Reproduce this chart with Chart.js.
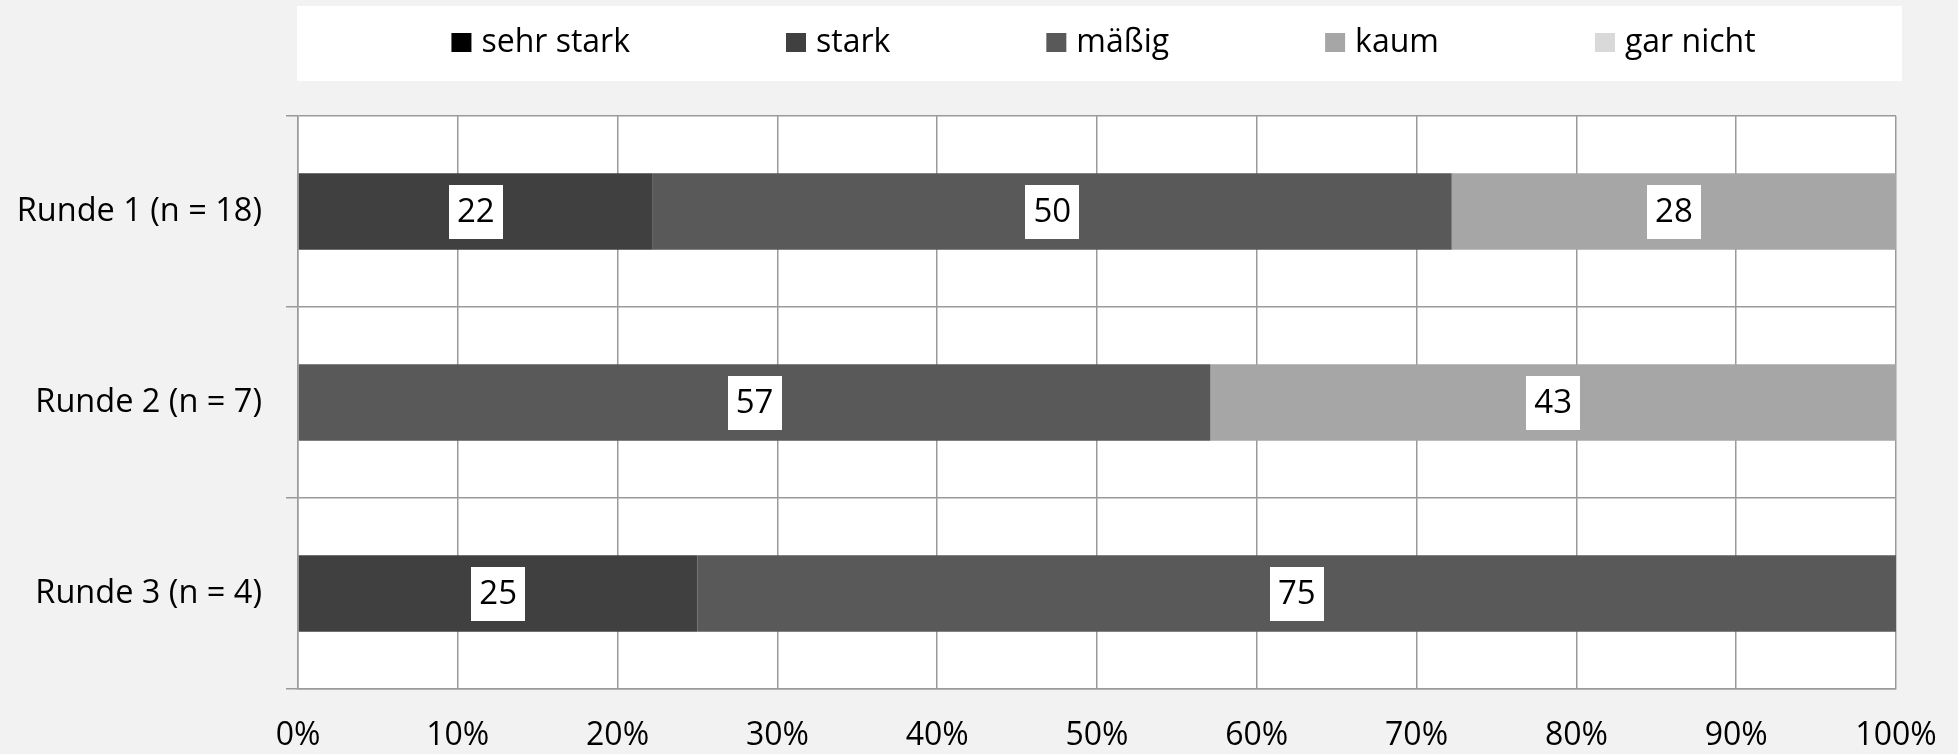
<!DOCTYPE html>
<html>
<head>
<meta charset="utf-8">
<script src="https://cdn.jsdelivr.net/npm/chart.js@4.4.0/dist/chart.umd.min.js"></script>
<style>
html,body{margin:0;padding:0;background:#f2f2f2;}
canvas{display:block;}
</style>
</head>
<body>
<canvas id="c" width="1958" height="754"></canvas>
<script>
const categories = ['Runde 1 (n = 18)', 'Runde 2 (n = 7)', 'Runde 3 (n = 4)'];
const seriesNames = ['sehr stark', 'stark', 'mäßig', 'kaum', 'gar nicht'];
const sehrStark = [0, 0, 0];
const stark = [22.2, 0, 25];
const maessig = [50, 57.1, 75];
const kaum = [27.8, 42.9, 0];
const garNicht = [0, 0, 0];
const xTickValues = [0, 10, 20, 30, 40, 50, 60, 70, 80, 90, 100];
const seriesColors = ['#000000', '#404040', '#595959', '#a6a6a6', '#d9d9d9'];

const FONT = '"Open Sans", "Noto Sans", sans-serif';
const GRID = '#9a9a9a';

const bgPlugin = {
  id: 'bg',
  beforeDraw(chart) {
    const {ctx, chartArea: a} = chart;
    ctx.save();
    ctx.fillStyle = '#f2f2f2';
    ctx.fillRect(0, 0, chart.width, chart.height);
    ctx.fillStyle = '#ffffff';
    ctx.fillRect(a.left, a.top, a.right - a.left, a.bottom - a.top);
    ctx.restore();
  }
};

const legendPlugin = {
  id: 'customLegend',
  afterDraw(chart) {
    const {ctx, chartArea: a} = chart;
    const boxL = a.left - 1, boxR = a.right + 6, boxT = 6, boxB = 81;
    ctx.save();
    ctx.fillStyle = '#ffffff';
    ctx.fillRect(boxL, boxT, boxR - boxL, boxB - boxT);
    ctx.font = '32px ' + FONT;
    ctx.textBaseline = 'middle';
    const sq = 20, gapT = 10, gapItem = 156;
    const ds = chart.data.datasets;
    const widths = ds.map(d => sq + gapT + ctx.measureText(d.label).width);
    const total = widths.reduce((s, w) => s + w, 0) + gapItem * (ds.length - 1);
    let x = (boxL + boxR) / 2 - total / 2 + 4;
    const cy = 43;
    ds.forEach((d, i) => {
      ctx.fillStyle = d.backgroundColor;
      ctx.fillRect(x, cy - 10, sq, 19);
      ctx.fillStyle = '#000';
      ctx.fillText(d.label, x + sq + gapT, cy);
      x += widths[i] + gapItem;
    });
    ctx.restore();
  }
};

const labelPlugin = {
  id: 'valueLabels',
  afterDatasetsDraw(chart) {
    const {ctx} = chart;
    ctx.save();
    ctx.font = '33px ' + FONT;
    ctx.textAlign = 'center';
    ctx.textBaseline = 'middle';
    chart.data.datasets.forEach((d, i) => {
      const meta = chart.getDatasetMeta(i);
      meta.data.forEach((bar, j) => {
        const v = d.data[j];
        if (!v) return;
        const p = bar.getProps(['x', 'y', 'base'], true);
        const cx = (p.x + p.base) / 2;
        const txt = String(Math.round(v));
        const w = ctx.measureText(txt).width + 16;
        const h = 54;
        ctx.fillStyle = '#ffffff';
        ctx.fillRect(Math.round(cx - w / 2), Math.round(p.y - h / 2), Math.round(w), h);
        ctx.fillStyle = '#000000';
        ctx.fillText(txt, cx, p.y + 1);
      });
    });
    ctx.restore();
  }
};

const seriesData = [sehrStark, stark, maessig, kaum, garNicht];

new Chart(document.getElementById('c'), {
  type: 'bar',
  data: {
    labels: categories,
    datasets: seriesNames.map((n, i) => ({
      label: n,
      data: seriesData[i],
      backgroundColor: seriesColors[i],
      borderWidth: 0,
      categoryPercentage: 1,
      barPercentage: 0.4
    }))
  },
  options: {
    indexAxis: 'y',
    responsive: false,
    devicePixelRatio: 1,
    animation: false,
    layout: { padding: { left: 0, right: 62, top: 116, bottom: 0 } },
    plugins: { legend: { display: false }, tooltip: { enabled: false } },
    scales: {
      x: {
        stacked: true,
        min: 0, max: 100,
        afterBuildTicks(scale) { scale.ticks = xTickValues.map(v => ({value: v})); },
        afterFit(scale) { scale.height = 65; scale.paddingLeft = 0; scale.paddingRight = 0; },
        grid: { color: GRID, lineWidth: 1.5, drawTicks: false },
        border: { color: GRID, width: 1.5 },
        ticks: {
          padding: 28,
          color: '#000',
          font: { family: FONT, size: 32 },
          callback: v => v + '%'
        }
      },
      y: {
        stacked: true,
        afterFit(scale) { scale.width = 298; scale.paddingTop = 0; scale.paddingBottom = 0; },
        grid: { color: GRID, lineWidth: 1.5, tickLength: 12, offset: true },
        border: { color: GRID, width: 1.5 },
        ticks: {
          padding: 24,
          color: '#000',
          font: { family: FONT, size: 32.5 }
        }
      }
    }
  },
  plugins: [bgPlugin, labelPlugin, legendPlugin]
});
</script>
</body>
</html>
